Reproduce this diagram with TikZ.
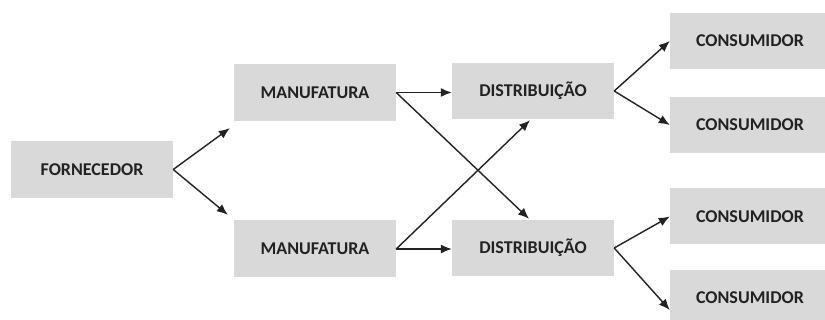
\documentclass[tikz,border=0pt]{standalone}
\usepackage{fontspec}
\setmainfont{Carlito}
\usetikzlibrary{arrows.meta}
\definecolor{boxgray}{RGB}{217,217,217}
\definecolor{ink}{RGB}{34,34,34}
\begin{document}
\begin{tikzpicture}[x=1pt,y=-1pt,
  stage/.style={fill=boxgray, draw=none, inner sep=0pt,
    minimum width=162pt, minimum height=57pt,
    font=\fontsize{18}{18}\selectfont\bfseries, text=ink},
  endbox/.style={stage, minimum width=160pt, minimum height=56pt},
  flow/.style={draw=ink, line width=1.4pt, -{Latex[length=11pt,width=9pt]}}]
\useasboundingbox (0,0) rectangle (825,320);
\clip (0,0) rectangle (825,320);

% stages of the chain
\node[stage] (f)  at (92,169.5) {FORNECEDOR};
\node[stage] (m1) at (315,92.5) {MANUFATURA};
\node[stage] (m2) at (315,249)  {MANUFATURA};
\node[stage, minimum height=56pt] (d1) at (533,91)  {DISTRIBUIÇÃO};
\node[stage, minimum height=56pt] (d2) at (533,248) {DISTRIBUIÇÃO};
\node[endbox] (c1) at (750,41)    {CONSUMIDOR};
\node[endbox] (c2) at (750,125)   {CONSUMIDOR};
\node[endbox] (c3) at (750,216.5) {CONSUMIDOR};
\node[endbox] (c4) at (750,298)   {CONSUMIDOR};

% arrow targets beside the boxes
\coordinate (m1in) at ([shift={(-4,7)}]m1.south west);
\coordinate (m2in) at ([shift={(-6,-5.5)}]m2.north west);
\coordinate (d1in) at ([shift={(-3,1)}]d1.south);
\coordinate (d2in) at ([shift={(-4,-1)}]d2.north);
\coordinate (c4in) at ([shift={(0,12)}]c4.west);

% connectors
\draw[flow] (f.east) -- (m1in);
\draw[flow] (f.east) -- (m2in);
\draw[flow] (m1.east) -- (m1.east -| d1.west);
\draw[flow] (m1.east) -- (d2in);
\draw[flow] (m2.east) -- (m2.east -| d2.west);
\draw[flow] (m2.east) -- (d1in);
\draw[flow] (d1.east) -- (c1.west);
\draw[flow] (d1.east) -- (c2.west);
\draw[flow] (d2.east) -- (c3.west);
\draw[flow] (d2.east) -- (c4in);
\end{tikzpicture}
\end{document}
